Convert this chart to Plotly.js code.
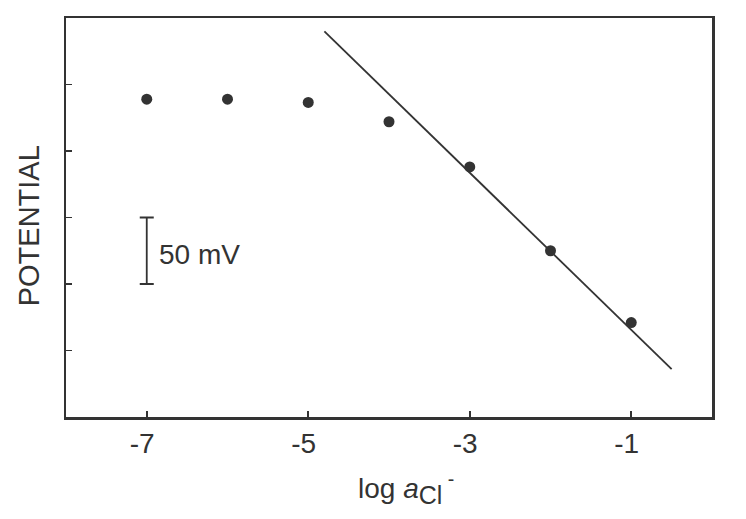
<!DOCTYPE html>
<html>
<head>
<meta charset="utf-8">
<script src="https://cdn.plot.ly/plotly-3.0.1.min.js"></script>
<style>
  body { margin: 0; background: #fff; }
  #chart { width: 746px; height: 519px; }
</style>
</head>
<body>
<div id="chart"></div>
<script>
"use strict"
// measured points: log activity of Cl- vs potential (mV, arbitrary zero)
var logA = [-7, -6, -5, -4, -3, -2, -1];
var potential = [189, 189, 186.5, 172, 138, 75, 21];

// Nernstian fit line
var fitX = [-4.8, -0.5];
var fitY = [240, -14];

// 50 mV scale bar
var barX = [-7];
var barY = [75];
var barHalf = [25];
var barLabel = '50 mV';

var xTicks = [-7, -5, -3, -1];
var yTicks = [0, 50, 100, 150, 200];

var ink = '#333333';
var fontFam = '"Liberation Sans", Arial, sans-serif';
// hidden trailing hyphen so the digit sits under the tick, like the original
var pad = '<span style="color:rgba(0,0,0,0)">-</span>';

var points = {
  x: logA,
  y: potential,
  type: 'scatter',
  mode: 'markers',
  marker: { color: ink, size: 11 },
  hoverinfo: 'skip'
};

var fit = {
  x: fitX,
  y: fitY,
  type: 'scatter',
  mode: 'lines',
  line: { color: ink, width: 1.8 },
  hoverinfo: 'skip'
};

var scaleBar = {
  x: barX,
  y: barY,
  type: 'scatter',
  mode: 'markers',
  marker: { opacity: 0, size: 1 },
  error_y: { type: 'data', array: barHalf, visible: true, color: ink, thickness: 1.8, width: 7 },
  hoverinfo: 'skip'
};

var layout = {
  width: 746,
  height: 519,
  margin: { l: 66, r: 34, t: 18, b: 102 },
  showlegend: false,
  paper_bgcolor: '#ffffff',
  plot_bgcolor: '#ffffff',
  font: { family: fontFam, color: ink, size: 28 },
  xaxis: {
    range: [-8, 0],
    tickvals: xTicks,
    ticktext: xTicks.map(function (v) { return v + pad; }),
    ticks: 'inside',
    ticklen: 6,
    tickwidth: 1.8,
    tickcolor: ink,
    showline: true,
    linecolor: ink,
    linewidth: 2.5,
    mirror: true,
    showgrid: false,
    zeroline: false,
    tickfont: { size: 28, color: ink },
    ticklabelstandoff: 0
  },
  yaxis: {
    range: [-50, 250],
    tickvals: yTicks,
    showticklabels: false,
    ticks: 'inside',
    ticklen: 6,
    tickwidth: 1.8,
    tickcolor: ink,
    showline: true,
    linecolor: ink,
    linewidth: 2.5,
    mirror: true,
    showgrid: false,
    zeroline: false
  },
  annotations: [{
    x: -6.87,
    y: barY[0],
    xref: 'x',
    yref: 'y',
    yshift: -4,
    text: barLabel,
    showarrow: false,
    xanchor: 'left',
    yanchor: 'middle',
    font: { size: 28, color: ink }
  }, {
    // x axis title
    x: 0.526,
    y: -0.18,
    xref: 'paper',
    yref: 'paper',
    text: 'log <i>a</i><sub><span style="font-size:25px">Cl</span></sub><sup> -</sup>',
    showarrow: false,
    xanchor: 'center',
    yanchor: 'middle',
    font: { size: 28, color: ink }
  }, {
    // y axis title
    x: -0.056,
    y: 0.48,
    xref: 'paper',
    yref: 'paper',
    text: 'POTENTIAL',
    textangle: -90,
    showarrow: false,
    xanchor: 'center',
    yanchor: 'middle',
    font: { size: 29, color: ink }
  }]
};

Plotly.newPlot('chart', [fit, points, scaleBar], layout, { displayModeBar: false, staticPlot: true });
</script>
</body>
</html>
